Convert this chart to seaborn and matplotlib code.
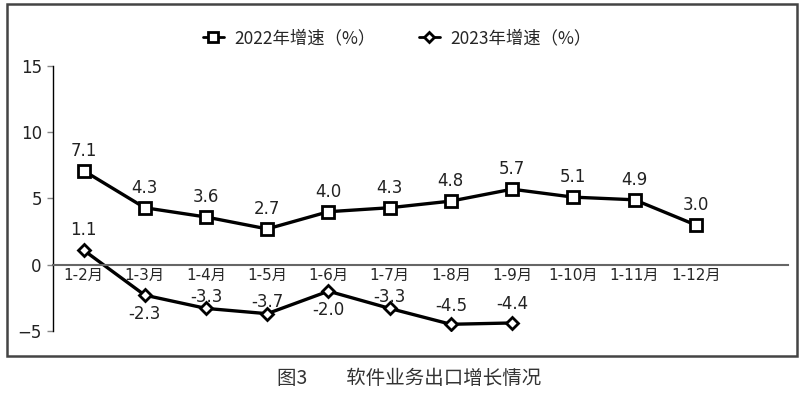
import matplotlib
matplotlib.use("Agg")
import matplotlib.pyplot as plt
import seaborn as sns
import pandas as pd
from matplotlib.patches import Rectangle

months = ["1-2月", "1-3月", "1-4月", "1-5月", "1-6月", "1-7月",
          "1-8月", "1-9月", "1-10月", "1-11月", "1-12月"]
growth_2022 = [7.1, 4.3, 3.6, 2.7, 4.0, 4.3, 4.8, 5.7, 5.1, 4.9, 3.0]
growth_2023 = [1.1, -2.3, -3.3, -3.7, -2.0, -3.3, -4.5, -4.4]
label_2022 = "2022年增速（%）"
label_2023 = "2023年增速（%）"
caption = "图3　　软件业务出口增长情况"

# label offsets (points) for 2023: positive above the point, negative below
offset_2023 = [8, -7, 2, 2, -7, 2, 7, 7]

sns.set_theme(style="white")
plt.rcParams['font.family'] = ['DejaVu Sans', 'Noto Sans CJK SC']
cjk = ['Noto Sans CJK SC', 'DejaVu Sans']

df = pd.DataFrame({
    "month": months[:len(growth_2022)] + months[:len(growth_2023)],
    "x": list(range(len(growth_2022))) + list(range(len(growth_2023))),
    "value": growth_2022 + growth_2023,
    "series": [label_2022] * len(growth_2022) + [label_2023] * len(growth_2023),
})

fig = plt.figure(figsize=(8.02, 3.93), dpi=100)
ax = fig.add_axes([0.066, 0.158, 0.916, 0.674])

sns.lineplot(data=df, x="x", y="value", hue="series", style="series",
             markers={label_2022: "s", label_2023: "D"}, dashes=False,
             palette={label_2022: "black", label_2023: "black"},
             linewidth=2.4, ax=ax, legend=False)
for line, ms in zip(ax.get_lines(), [8.5, 6.5]):
    line.set_markerfacecolor("white")
    line.set_markeredgecolor("black")
    line.set_markeredgewidth(2)
    line.set_markersize(ms)

for i, v in enumerate(growth_2022):
    ax.annotate(f"{v:.1f}", (i, v), xytext=(0, 8), textcoords="offset points",
                ha="center", va="bottom", fontsize=12, color="#222222")
for i, (v, off) in enumerate(zip(growth_2023, offset_2023)):
    ax.annotate(f"{v:.1f}", (i, v), xytext=(0, off), textcoords="offset points",
                ha="center", va="bottom" if off > 0 else "top",
                fontsize=12, color="#222222")

ax.set_xlim(-0.5, 11.5)
ax.set_ylim(-5, 15)
ax.set_yticks([-5, 0, 5, 10, 15])
ax.set_xticks(range(len(months)))
ax.set_xticklabels(months, family=cjk, fontsize=10.5, color="#333333")
ax.set_xlabel("")
ax.set_ylabel("")
ax.tick_params(axis="y", length=4, width=1, color="#888888", labelsize=12,
               labelcolor="#222222", pad=4, left=True)
ax.tick_params(axis="x", length=0, pad=2)
for side in ["top", "right"]:
    ax.spines[side].set_visible(False)
ax.spines["left"].set_color("black")
ax.spines["left"].set_linewidth(1)
ax.spines["bottom"].set_position(("data", 0))
ax.spines["bottom"].set_color("#666666")
ax.spines["bottom"].set_linewidth(1.5)

# legend
h1 = plt.Line2D([], [], color="black", lw=2, marker="s", ms=7, mfc="white",
                mew=2, mec="black")
h2 = plt.Line2D([], [], color="black", lw=2, marker="D", ms=5.5, mfc="white",
                mew=2, mec="black")
fig.legend([h1, h2], [label_2022, label_2023], loc="center",
           bbox_to_anchor=(0.495, 0.903), ncol=2, frameon=False,
           prop={"family": cjk, "size": 12.5}, handlelength=1.2,
           columnspacing=2.5, handletextpad=0.6)

# outer frame and caption
fig.patches.append(Rectangle((0.009, 0.094), 0.985, 0.896,
                             transform=fig.transFigure, fill=False,
                             edgecolor="#444444", lw=1.8))
fig.text(0.51, 0.038, caption, ha="center", va="center",
         family=cjk, fontsize=14, color="#333333")

fig.savefig("out.png", dpi=100)
